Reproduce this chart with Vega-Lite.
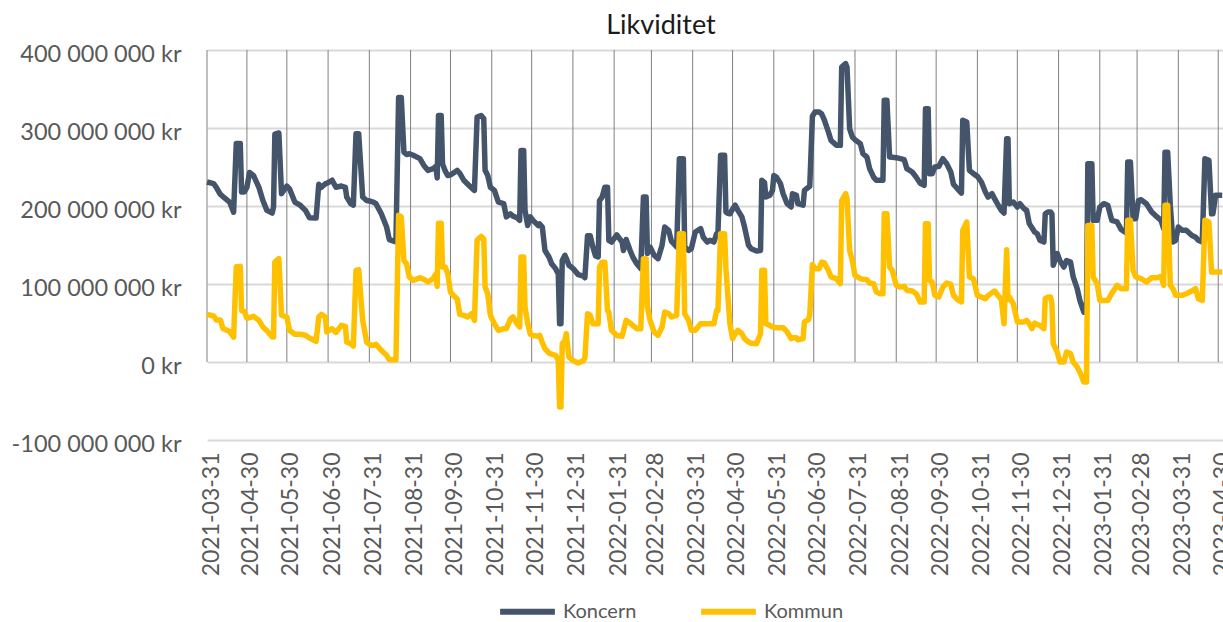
{
  "$schema": "https://vega.github.io/schema/vega-lite/v6.json",
  "autosize": {"type": "none"},
  "padding": {"left": 207, "top": 50, "right": 0, "bottom": 182},
  "width": 1016,
  "height": 390,
  "background": "white",
  "title": {"text": "Likviditet", "fontSize": 27, "fontWeight": "normal", "color": "#1a1a1a", "font": "Lato", "anchor": "middle", "dx": -54, "offset": 2},
  "config": {
    "font": "Lato",
    "view": {"stroke": null},
    "locale": {"number": {"decimal": ",", "thousands": " ", "grouping": [3], "currency": ["", " kr"], "minus": "-"}}
  },
  "layer": [
    {
      "data": {"values": [
        {"g": "2021-03-31"}, {"g": "2021-04-30"}, {"g": "2021-05-30"}, {"g": "2021-06-30"}, {"g": "2021-07-31"}, {"g": "2021-08-31"},
        {"g": "2021-09-30"}, {"g": "2021-10-31"}, {"g": "2021-11-30"}, {"g": "2021-12-31"}, {"g": "2022-01-31"}, {"g": "2022-02-28"},
        {"g": "2022-03-31"}, {"g": "2022-04-30"}, {"g": "2022-05-31"}, {"g": "2022-06-30"}, {"g": "2022-07-31"}, {"g": "2022-08-31"},
        {"g": "2022-09-30"}, {"g": "2022-10-31"}, {"g": "2022-11-30"}, {"g": "2022-12-31"}, {"g": "2023-01-31"}, {"g": "2023-02-28"},
        {"g": "2023-03-31"}, {"g": "2023-04-30"}
      ]},
      "mark": {"type": "rule", "color": "#808080", "strokeWidth": 1},
      "encoding": {
        "x": {"field": "g", "type": "temporal"},
        "y": {"datum": 0, "type": "quantitative"},
        "y2": {"datum": 400000000}
      }
    },
    {
      "data": {"values": [
        {"d":"2021-03-31","Koncern":230800000,"Kommun":61000000},
        {"d":"2021-04-05","Koncern":228600000,"Kommun":59000000},
        {"d":"2021-04-07","Koncern":224000000,"Kommun":54000000},
        {"d":"2021-04-10","Koncern":215000000,"Kommun":54000000},
        {"d":"2021-04-12","Koncern":212000000,"Kommun":43000000},
        {"d":"2021-04-17","Koncern":205000000,"Kommun":39000000},
        {"d":"2021-04-20","Koncern":192000000,"Kommun":32000000},
        {"d":"2021-04-22","Koncern":280000000,"Kommun":122000000},
        {"d":"2021-04-25","Koncern":280000000,"Kommun":122600000},
        {"d":"2021-04-26","Koncern":218000000,"Kommun":66000000},
        {"d":"2021-04-28","Koncern":218000000,"Kommun":65000000},
        {"d":"2021-04-30","Koncern":224000000,"Kommun":56000000},
        {"d":"2021-05-02","Koncern":243000000,"Kommun":57000000},
        {"d":"2021-05-05","Koncern":239000000,"Kommun":58500000},
        {"d":"2021-05-09","Koncern":224000000,"Kommun":53400000},
        {"d":"2021-05-12","Koncern":207000000,"Kommun":45000000},
        {"d":"2021-05-15","Koncern":194400000,"Kommun":40000000},
        {"d":"2021-05-19","Koncern":191000000,"Kommun":32000000},
        {"d":"2021-05-20","Koncern":198700000,"Kommun":32000000},
        {"d":"2021-05-21","Koncern":292000000,"Kommun":128000000},
        {"d":"2021-05-24","Koncern":293600000,"Kommun":132500000},
        {"d":"2021-05-26","Koncern":215800000,"Kommun":60000000},
        {"d":"2021-05-30","Koncern":225600000,"Kommun":57700000},
        {"d":"2021-06-01","Koncern":222000000,"Kommun":40600000},
        {"d":"2021-06-05","Koncern":205000000,"Kommun":35500000},
        {"d":"2021-06-09","Koncern":201000000,"Kommun":35500000},
        {"d":"2021-06-13","Koncern":194400000,"Kommun":34200000},
        {"d":"2021-06-16","Koncern":185000000,"Kommun":30800000},
        {"d":"2021-06-21","Koncern":184600000,"Kommun":26500000},
        {"d":"2021-06-23","Koncern":227800000,"Kommun":57700000},
        {"d":"2021-06-25","Koncern":224000000,"Kommun":61000000},
        {"d":"2021-06-28","Koncern":228600000,"Kommun":57700000},
        {"d":"2021-06-29","Koncern":229000000,"Kommun":38500000},
        {"d":"2021-07-03","Koncern":233000000,"Kommun":42700000},
        {"d":"2021-07-06","Koncern":224000000,"Kommun":38000000},
        {"d":"2021-07-10","Koncern":225600000,"Kommun":47000000},
        {"d":"2021-07-13","Koncern":224000000,"Kommun":45700000},
        {"d":"2021-07-14","Koncern":211500000,"Kommun":25600000},
        {"d":"2021-07-17","Koncern":203000000,"Kommun":23500000},
        {"d":"2021-07-19","Koncern":201000000,"Kommun":20500000},
        {"d":"2021-07-21","Koncern":292700000,"Kommun":117500000},
        {"d":"2021-07-23","Koncern":292700000,"Kommun":118400000},
        {"d":"2021-07-26","Koncern":211500000,"Kommun":53400000},
        {"d":"2021-07-29","Koncern":207000000,"Kommun":25600000},
        {"d":"2021-08-01","Koncern":206000000,"Kommun":21400000},
        {"d":"2021-08-03","Koncern":205000000,"Kommun":21400000},
        {"d":"2021-08-05","Koncern":203000000,"Kommun":22600000},
        {"d":"2021-08-09","Koncern":190000000,"Kommun":15000000},
        {"d":"2021-08-13","Koncern":173000000,"Kommun":8500000},
        {"d":"2021-08-15","Koncern":157000000,"Kommun":3000000},
        {"d":"2021-08-20","Koncern":154000000,"Kommun":3000000},
        {"d":"2021-08-22","Koncern":339000000,"Kommun":188000000},
        {"d":"2021-08-24","Koncern":339000000,"Kommun":186000000},
        {"d":"2021-08-26","Koncern":269000000,"Kommun":130000000},
        {"d":"2021-08-28","Koncern":266000000,"Kommun":126000000},
        {"d":"2021-08-30","Koncern":267000000,"Kommun":109000000},
        {"d":"2021-09-02","Koncern":265000000,"Kommun":104700000},
        {"d":"2021-09-07","Koncern":260700000,"Kommun":108000000},
        {"d":"2021-09-10","Koncern":252000000,"Kommun":106000000},
        {"d":"2021-09-13","Koncern":245700000,"Kommun":102600000},
        {"d":"2021-09-17","Koncern":248000000,"Kommun":106800000},
        {"d":"2021-09-19","Koncern":250800000,"Kommun":113000000},
        {"d":"2021-09-20","Koncern":236000000,"Kommun":97000000},
        {"d":"2021-09-21","Koncern":316000000,"Kommun":178000000},
        {"d":"2021-09-23","Koncern":316000000,"Kommun":178000000},
        {"d":"2021-09-24","Koncern":254000000,"Kommun":121800000},
        {"d":"2021-09-26","Koncern":245000000,"Kommun":121800000},
        {"d":"2021-09-28","Koncern":239000000,"Kommun":113000000},
        {"d":"2021-09-30","Koncern":240000000,"Kommun":89700000},
        {"d":"2021-10-02","Koncern":242000000,"Kommun":85500000},
        {"d":"2021-10-05","Koncern":245700000,"Kommun":81000000},
        {"d":"2021-10-07","Koncern":242000000,"Kommun":61000000},
        {"d":"2021-10-10","Koncern":233000000,"Kommun":59800000},
        {"d":"2021-10-13","Koncern":228000000,"Kommun":57700000},
        {"d":"2021-10-16","Koncern":223000000,"Kommun":62000000},
        {"d":"2021-10-18","Koncern":220000000,"Kommun":53400000},
        {"d":"2021-10-20","Koncern":314000000,"Kommun":156000000},
        {"d":"2021-10-23","Koncern":316000000,"Kommun":161000000},
        {"d":"2021-10-25","Koncern":312000000,"Kommun":158000000},
        {"d":"2021-10-26","Koncern":245700000,"Kommun":96000000},
        {"d":"2021-10-28","Koncern":239000000,"Kommun":87600000},
        {"d":"2021-10-30","Koncern":224000000,"Kommun":59800000},
        {"d":"2021-11-02","Koncern":220000000,"Kommun":49000000},
        {"d":"2021-11-05","Koncern":205000000,"Kommun":40600000},
        {"d":"2021-11-09","Koncern":203000000,"Kommun":42700000},
        {"d":"2021-11-11","Koncern":186000000,"Kommun":42700000},
        {"d":"2021-11-14","Koncern":190000000,"Kommun":55000000},
        {"d":"2021-11-16","Koncern":187000000,"Kommun":57700000},
        {"d":"2021-11-19","Koncern":185000000,"Kommun":49000000},
        {"d":"2021-11-21","Koncern":181600000,"Kommun":44900000},
        {"d":"2021-11-22","Koncern":271000000,"Kommun":134600000},
        {"d":"2021-11-24","Koncern":271000000,"Kommun":134600000},
        {"d":"2021-11-25","Koncern":194400000,"Kommun":70500000},
        {"d":"2021-11-27","Koncern":175000000,"Kommun":50000000},
        {"d":"2021-11-29","Koncern":186000000,"Kommun":35500000},
        {"d":"2021-12-01","Koncern":181600000,"Kommun":34000000},
        {"d":"2021-12-05","Koncern":175000000,"Kommun":33000000},
        {"d":"2021-12-06","Koncern":177000000,"Kommun":34200000},
        {"d":"2021-12-08","Koncern":173000000,"Kommun":25000000},
        {"d":"2021-12-10","Koncern":143000000,"Kommun":17000000},
        {"d":"2021-12-13","Koncern":134600000,"Kommun":11500000},
        {"d":"2021-12-15","Koncern":126000000,"Kommun":10000000},
        {"d":"2021-12-18","Koncern":119700000,"Kommun":8500000},
        {"d":"2021-12-20","Koncern":113000000,"Kommun":2000000},
        {"d":"2021-12-21","Koncern":49000000,"Kommun":-57700000},
        {"d":"2021-12-22","Koncern":49000000,"Kommun":-57700000},
        {"d":"2021-12-23","Koncern":130000000,"Kommun":23500000},
        {"d":"2021-12-25","Koncern":136800000,"Kommun":27800000},
        {"d":"2021-12-26","Koncern":133000000,"Kommun":36300000},
        {"d":"2021-12-28","Koncern":124000000,"Kommun":6400000},
        {"d":"2021-12-31","Koncern":120000000,"Kommun":2000000},
        {"d":"2022-01-04","Koncern":112000000,"Kommun":-1300000},
        {"d":"2022-01-08","Koncern":110000000,"Kommun":2000000},
        {"d":"2022-01-09","Koncern":108000000,"Kommun":5000000},
        {"d":"2022-01-11","Koncern":162000000,"Kommun":62000000},
        {"d":"2022-01-13","Koncern":162000000,"Kommun":59800000},
        {"d":"2022-01-15","Koncern":147400000,"Kommun":49000000},
        {"d":"2022-01-17","Koncern":136000000,"Kommun":49000000},
        {"d":"2022-01-19","Koncern":134600000,"Kommun":49000000},
        {"d":"2022-01-20","Koncern":207000000,"Kommun":121800000},
        {"d":"2022-01-22","Koncern":211500000,"Kommun":128000000},
        {"d":"2022-01-24","Koncern":224000000,"Kommun":128000000},
        {"d":"2022-01-26","Koncern":224000000,"Kommun":66000000},
        {"d":"2022-01-27","Koncern":156000000,"Kommun":64000000},
        {"d":"2022-01-29","Koncern":153800000,"Kommun":40600000},
        {"d":"2022-02-02","Koncern":163000000,"Kommun":34000000},
        {"d":"2022-02-06","Koncern":153800000,"Kommun":33000000},
        {"d":"2022-02-07","Koncern":143000000,"Kommun":40000000},
        {"d":"2022-02-09","Koncern":157000000,"Kommun":53400000},
        {"d":"2022-02-12","Koncern":143000000,"Kommun":50000000},
        {"d":"2022-02-14","Koncern":134600000,"Kommun":47000000},
        {"d":"2022-02-17","Koncern":126000000,"Kommun":42700000},
        {"d":"2022-02-20","Koncern":119700000,"Kommun":42700000},
        {"d":"2022-02-22","Koncern":211500000,"Kommun":132500000},
        {"d":"2022-02-24","Koncern":211500000,"Kommun":132500000},
        {"d":"2022-02-25","Koncern":139000000,"Kommun":70500000},
        {"d":"2022-02-27","Koncern":147400000,"Kommun":53400000},
        {"d":"2022-03-02","Koncern":137000000,"Kommun":38500000},
        {"d":"2022-03-05","Koncern":132500000,"Kommun":34200000},
        {"d":"2022-03-08","Koncern":149600000,"Kommun":44900000},
        {"d":"2022-03-10","Koncern":173000000,"Kommun":64000000},
        {"d":"2022-03-13","Koncern":168800000,"Kommun":62000000},
        {"d":"2022-03-15","Koncern":155000000,"Kommun":57700000},
        {"d":"2022-03-19","Koncern":147400000,"Kommun":59800000},
        {"d":"2022-03-21","Koncern":260700000,"Kommun":164500000},
        {"d":"2022-03-24","Koncern":260700000,"Kommun":164500000},
        {"d":"2022-03-25","Koncern":147400000,"Kommun":62000000},
        {"d":"2022-03-28","Koncern":143000000,"Kommun":53400000},
        {"d":"2022-03-30","Koncern":145300000,"Kommun":40600000},
        {"d":"2022-04-02","Koncern":166700000,"Kommun":40600000},
        {"d":"2022-04-06","Koncern":171000000,"Kommun":49000000},
        {"d":"2022-04-08","Koncern":160000000,"Kommun":49000000},
        {"d":"2022-04-11","Koncern":153800000,"Kommun":49000000},
        {"d":"2022-04-13","Koncern":156000000,"Kommun":49000000},
        {"d":"2022-04-16","Koncern":153800000,"Kommun":49000000},
        {"d":"2022-04-18","Koncern":164500000,"Kommun":66000000},
        {"d":"2022-04-19","Koncern":164500000,"Kommun":66000000},
        {"d":"2022-04-21","Koncern":265000000,"Kommun":164500000},
        {"d":"2022-04-24","Koncern":265000000,"Kommun":164500000},
        {"d":"2022-04-25","Koncern":192300000,"Kommun":120000000},
        {"d":"2022-04-26","Koncern":191000000,"Kommun":96000000},
        {"d":"2022-04-28","Koncern":190000000,"Kommun":49000000},
        {"d":"2022-04-30","Koncern":196000000,"Kommun":30000000},
        {"d":"2022-05-02","Koncern":201000000,"Kommun":36000000},
        {"d":"2022-05-04","Koncern":194400000,"Kommun":40600000},
        {"d":"2022-05-07","Koncern":186000000,"Kommun":36300000},
        {"d":"2022-05-09","Koncern":173000000,"Kommun":30000000},
        {"d":"2022-05-12","Koncern":149600000,"Kommun":25600000},
        {"d":"2022-05-14","Koncern":145300000,"Kommun":24000000},
        {"d":"2022-05-18","Koncern":142300000,"Kommun":23500000},
        {"d":"2022-05-21","Koncern":143000000,"Kommun":36300000},
        {"d":"2022-05-22","Koncern":233000000,"Kommun":117500000},
        {"d":"2022-05-24","Koncern":230000000,"Kommun":117500000},
        {"d":"2022-05-25","Koncern":211500000,"Kommun":49000000},
        {"d":"2022-05-28","Koncern":213700000,"Kommun":47000000},
        {"d":"2022-05-30","Koncern":220000000,"Kommun":44900000},
        {"d":"2022-05-31","Koncern":239000000,"Kommun":44500000},
        {"d":"2022-06-02","Koncern":237000000,"Kommun":44000000},
        {"d":"2022-06-05","Koncern":228600000,"Kommun":44000000},
        {"d":"2022-06-07","Koncern":215800000,"Kommun":44000000},
        {"d":"2022-06-10","Koncern":203000000,"Kommun":38500000},
        {"d":"2022-06-13","Koncern":198700000,"Kommun":30000000},
        {"d":"2022-06-14","Koncern":215800000,"Kommun":31000000},
        {"d":"2022-06-17","Koncern":213700000,"Kommun":31000000},
        {"d":"2022-06-18","Koncern":203000000,"Kommun":28600000},
        {"d":"2022-06-22","Koncern":201000000,"Kommun":30000000},
        {"d":"2022-06-23","Koncern":220000000,"Kommun":51300000},
        {"d":"2022-06-26","Koncern":224000000,"Kommun":54300000},
        {"d":"2022-06-27","Koncern":225000000,"Kommun":60000000},
        {"d":"2022-06-29","Koncern":315000000,"Kommun":125000000},
        {"d":"2022-07-01","Koncern":320500000,"Kommun":119700000},
        {"d":"2022-07-04","Koncern":320500000,"Kommun":119700000},
        {"d":"2022-07-06","Koncern":318000000,"Kommun":128000000},
        {"d":"2022-07-08","Koncern":310000000,"Kommun":127000000},
        {"d":"2022-07-11","Koncern":295000000,"Kommun":117500000},
        {"d":"2022-07-13","Koncern":284000000,"Kommun":109000000},
        {"d":"2022-07-17","Koncern":278000000,"Kommun":106800000},
        {"d":"2022-07-20","Koncern":277800000,"Kommun":100400000},
        {"d":"2022-07-21","Koncern":378000000,"Kommun":207000000},
        {"d":"2022-07-24","Koncern":382500000,"Kommun":215800000},
        {"d":"2022-07-25","Koncern":378000000,"Kommun":209400000},
        {"d":"2022-07-27","Koncern":299000000,"Kommun":143000000},
        {"d":"2022-07-29","Koncern":288500000,"Kommun":130000000},
        {"d":"2022-07-31","Koncern":285000000,"Kommun":111000000},
        {"d":"2022-08-04","Koncern":280000000,"Kommun":106800000},
        {"d":"2022-08-06","Koncern":267000000,"Kommun":106000000},
        {"d":"2022-08-09","Koncern":262800000,"Kommun":105600000},
        {"d":"2022-08-11","Koncern":247900000,"Kommun":101300000},
        {"d":"2022-08-14","Koncern":237000000,"Kommun":100400000},
        {"d":"2022-08-16","Koncern":233000000,"Kommun":89700000},
        {"d":"2022-08-19","Koncern":233000000,"Kommun":87600000},
        {"d":"2022-08-21","Koncern":233000000,"Kommun":87600000},
        {"d":"2022-08-22","Koncern":335500000,"Kommun":190000000},
        {"d":"2022-08-24","Koncern":335500000,"Kommun":190000000},
        {"d":"2022-08-26","Koncern":262800000,"Kommun":121800000},
        {"d":"2022-08-28","Koncern":262500000,"Kommun":117500000},
        {"d":"2022-08-31","Koncern":262000000,"Kommun":98300000},
        {"d":"2022-09-03","Koncern":260700000,"Kommun":96000000},
        {"d":"2022-09-06","Koncern":259400000,"Kommun":97000000},
        {"d":"2022-09-08","Koncern":247900000,"Kommun":92000000},
        {"d":"2022-09-12","Koncern":243600000,"Kommun":91000000},
        {"d":"2022-09-15","Koncern":237000000,"Kommun":87600000},
        {"d":"2022-09-18","Koncern":229000000,"Kommun":77000000},
        {"d":"2022-09-21","Koncern":226500000,"Kommun":77000000},
        {"d":"2022-09-22","Koncern":324800000,"Kommun":177400000},
        {"d":"2022-09-24","Koncern":324800000,"Kommun":177400000},
        {"d":"2022-09-25","Koncern":241500000,"Kommun":104700000},
        {"d":"2022-09-27","Koncern":241500000,"Kommun":102600000},
        {"d":"2022-09-29","Koncern":250000000,"Kommun":85500000},
        {"d":"2022-10-02","Koncern":250800000,"Kommun":83300000},
        {"d":"2022-10-05","Koncern":260700000,"Kommun":96000000},
        {"d":"2022-10-08","Koncern":254000000,"Kommun":101300000},
        {"d":"2022-10-11","Koncern":243600000,"Kommun":99600000},
        {"d":"2022-10-13","Koncern":228000000,"Kommun":85500000},
        {"d":"2022-10-16","Koncern":222000000,"Kommun":80000000},
        {"d":"2022-10-19","Koncern":216700000,"Kommun":77000000},
        {"d":"2022-10-20","Koncern":310000000,"Kommun":168800000},
        {"d":"2022-10-23","Koncern":307700000,"Kommun":179500000},
        {"d":"2022-10-25","Koncern":245700000,"Kommun":109000000},
        {"d":"2022-10-28","Koncern":241500000,"Kommun":106800000},
        {"d":"2022-10-31","Koncern":238000000,"Kommun":85500000},
        {"d":"2022-11-03","Koncern":230800000,"Kommun":83300000},
        {"d":"2022-11-06","Koncern":218000000,"Kommun":81200000},
        {"d":"2022-11-08","Koncern":211500000,"Kommun":85000000},
        {"d":"2022-11-11","Koncern":215800000,"Kommun":89000000},
        {"d":"2022-11-13","Koncern":209000000,"Kommun":91000000},
        {"d":"2022-11-16","Koncern":200000000,"Kommun":84200000},
        {"d":"2022-11-18","Koncern":194400000,"Kommun":80000000},
        {"d":"2022-11-20","Koncern":191000000,"Kommun":49000000},
        {"d":"2022-11-22","Koncern":286300000,"Kommun":144000000},
        {"d":"2022-11-23","Koncern":286300000,"Kommun":80000000},
        {"d":"2022-11-24","Koncern":203000000,"Kommun":83300000},
        {"d":"2022-11-27","Koncern":205000000,"Kommun":74800000},
        {"d":"2022-11-30","Koncern":198700000,"Kommun":51300000},
        {"d":"2022-12-02","Koncern":203000000,"Kommun":51300000},
        {"d":"2022-12-05","Koncern":196600000,"Kommun":51300000},
        {"d":"2022-12-07","Koncern":194400000,"Kommun":53400000},
        {"d":"2022-12-09","Koncern":177400000,"Kommun":49000000},
        {"d":"2022-12-11","Koncern":172000000,"Kommun":42700000},
        {"d":"2022-12-13","Koncern":166700000,"Kommun":50000000},
        {"d":"2022-12-15","Koncern":164500000,"Kommun":48000000},
        {"d":"2022-12-17","Koncern":156000000,"Kommun":47000000},
        {"d":"2022-12-20","Koncern":153800000,"Kommun":42700000},
        {"d":"2022-12-21","Koncern":190000000,"Kommun":81200000},
        {"d":"2022-12-23","Koncern":192300000,"Kommun":83300000},
        {"d":"2022-12-25","Koncern":192300000,"Kommun":83300000},
        {"d":"2022-12-26","Koncern":190000000,"Kommun":75000000},
        {"d":"2022-12-27","Koncern":124000000,"Kommun":23500000},
        {"d":"2022-12-30","Koncern":139000000,"Kommun":12800000},
        {"d":"2023-01-01","Koncern":130000000,"Kommun":0},
        {"d":"2023-01-04","Koncern":121800000,"Kommun":0},
        {"d":"2023-01-06","Koncern":130000000,"Kommun":12800000},
        {"d":"2023-01-09","Koncern":128000000,"Kommun":10700000},
        {"d":"2023-01-11","Koncern":109000000,"Kommun":0},
        {"d":"2023-01-14","Koncern":94000000,"Kommun":-6400000},
        {"d":"2023-01-16","Koncern":79000000,"Kommun":-12800000},
        {"d":"2023-01-19","Koncern":64000000,"Kommun":-25600000},
        {"d":"2023-01-21","Koncern":70500000,"Kommun":-25600000},
        {"d":"2023-01-22","Koncern":254300000,"Kommun":175000000},
        {"d":"2023-01-25","Koncern":254300000,"Kommun":175000000},
        {"d":"2023-01-26","Koncern":181600000,"Kommun":109000000},
        {"d":"2023-01-29","Koncern":181600000,"Kommun":100400000},
        {"d":"2023-01-31","Koncern":198700000,"Kommun":79000000},
        {"d":"2023-02-03","Koncern":203000000,"Kommun":79000000},
        {"d":"2023-02-06","Koncern":201000000,"Kommun":79000000},
        {"d":"2023-02-09","Koncern":181600000,"Kommun":88000000},
        {"d":"2023-02-13","Koncern":179500000,"Kommun":98300000},
        {"d":"2023-02-16","Koncern":170000000,"Kommun":94000000},
        {"d":"2023-02-20","Koncern":165400000,"Kommun":94000000},
        {"d":"2023-02-21","Koncern":256400000,"Kommun":181600000},
        {"d":"2023-02-23","Koncern":256400000,"Kommun":181600000},
        {"d":"2023-02-25","Koncern":183800000,"Kommun":117500000},
        {"d":"2023-02-27","Koncern":183800000,"Kommun":109000000},
        {"d":"2023-03-01","Koncern":207000000,"Kommun":108000000},
        {"d":"2023-03-03","Koncern":208000000,"Kommun":106800000},
        {"d":"2023-03-07","Koncern":203000000,"Kommun":102600000},
        {"d":"2023-03-11","Koncern":192300000,"Kommun":108000000},
        {"d":"2023-03-15","Koncern":186000000,"Kommun":108000000},
        {"d":"2023-03-18","Koncern":181600000,"Kommun":109800000},
        {"d":"2023-03-20","Koncern":171000000,"Kommun":98300000},
        {"d":"2023-03-21","Koncern":269000000,"Kommun":201000000},
        {"d":"2023-03-23","Koncern":269000000,"Kommun":201000000},
        {"d":"2023-03-25","Koncern":200000000,"Kommun":98300000},
        {"d":"2023-03-27","Koncern":153800000,"Kommun":94000000},
        {"d":"2023-03-29","Koncern":156000000,"Kommun":85500000},
        {"d":"2023-03-31","Koncern":173000000,"Kommun":85500000},
        {"d":"2023-04-03","Koncern":168800000,"Kommun":85500000},
        {"d":"2023-04-06","Koncern":168800000,"Kommun":87600000},
        {"d":"2023-04-10","Koncern":162400000,"Kommun":91000000},
        {"d":"2023-04-13","Koncern":160000000,"Kommun":94000000},
        {"d":"2023-04-15","Koncern":156000000,"Kommun":81200000},
        {"d":"2023-04-18","Koncern":153800000,"Kommun":79000000},
        {"d":"2023-04-20","Koncern":260700000,"Kommun":181600000},
        {"d":"2023-04-23","Koncern":258500000,"Kommun":179500000},
        {"d":"2023-04-25","Koncern":190000000,"Kommun":115400000},
        {"d":"2023-04-26","Koncern":190000000,"Kommun":115400000},
        {"d":"2023-04-28","Koncern":213700000,"Kommun":115400000},
        {"d":"2023-05-01","Koncern":213700000,"Kommun":115400000},
        {"d":"2023-05-03","Koncern":213700000,"Kommun":115400000}
      ]},
      "transform": [{"fold": ["Koncern", "Kommun"], "as": ["serie", "v"]}],
      "mark": {"type": "line", "strokeWidth": 5.5, "strokeJoin": "round"},
      "encoding": {
        "x": {
          "field": "d", "type": "temporal",
          "scale": {"type": "utc", "nice": false, "domain": [{"year": 2021, "month": 3, "date": 31, "utc": true}, {"year": 2023, "month": 5, "date": 3, "hours": 14, "utc": true}]},
          "axis": {
            "title": null, "format": "%Y-%m-%d", "labelAngle": 270, "labelAlign": "right", "labelBaseline": "middle",
            "labelFontSize": 23, "labelColor": "#595959", "labelPadding": 12, "labelOffset": 4,
            "ticks": false, "domain": false, "grid": false, "labelOverlap": false, "labelFlush": false, "labelBound": false,
            "values": [
              {"year": 2021, "month": 3, "date": 31, "utc": true}, {"year": 2021, "month": 4, "date": 30, "utc": true},
              {"year": 2021, "month": 5, "date": 30, "utc": true}, {"year": 2021, "month": 6, "date": 30, "utc": true},
              {"year": 2021, "month": 7, "date": 31, "utc": true}, {"year": 2021, "month": 8, "date": 31, "utc": true},
              {"year": 2021, "month": 9, "date": 30, "utc": true}, {"year": 2021, "month": 10, "date": 31, "utc": true},
              {"year": 2021, "month": 11, "date": 30, "utc": true}, {"year": 2021, "month": 12, "date": 31, "utc": true},
              {"year": 2022, "month": 1, "date": 31, "utc": true}, {"year": 2022, "month": 2, "date": 28, "utc": true},
              {"year": 2022, "month": 3, "date": 31, "utc": true}, {"year": 2022, "month": 4, "date": 30, "utc": true},
              {"year": 2022, "month": 5, "date": 31, "utc": true}, {"year": 2022, "month": 6, "date": 30, "utc": true},
              {"year": 2022, "month": 7, "date": 31, "utc": true}, {"year": 2022, "month": 8, "date": 31, "utc": true},
              {"year": 2022, "month": 9, "date": 30, "utc": true}, {"year": 2022, "month": 10, "date": 31, "utc": true},
              {"year": 2022, "month": 11, "date": 30, "utc": true}, {"year": 2022, "month": 12, "date": 31, "utc": true},
              {"year": 2023, "month": 1, "date": 31, "utc": true}, {"year": 2023, "month": 2, "date": 28, "utc": true},
              {"year": 2023, "month": 3, "date": 31, "utc": true}, {"year": 2023, "month": 4, "date": 30, "utc": true}
            ]
          }
        },
        "y": {
          "field": "v", "type": "quantitative",
          "scale": {"domain": [-100000000, 400000000], "nice": false, "zero": false},
          "axis": {
            "title": null, "format": "$,.0f", "values": [-100000000, 0, 100000000, 200000000, 300000000, 400000000],
            "labelFontSize": 23.5, "labelColor": "#595959", "labelPadding": 26, "labelOffset": 4,
            "ticks": false, "domain": false, "grid": true, "gridColor": "#d9d9d9", "gridWidth": 2
          }
        },
        "color": {
          "field": "serie", "type": "nominal",
          "scale": {"domain": ["Koncern", "Kommun"], "range": ["#44546A", "#FFC000"]},
          "legend": {
            "title": null, "orient": "none", "legendX": 290, "legendY": 531, "direction": "horizontal",
            "symbolType": "stroke", "symbolSize": 3000, "symbolStrokeWidth": 6,
            "labelFontSize": 20, "labelColor": "#595959", "labelOffset": 5, "columnPadding": 52
          }
        }
      }
    }
  ]
}
